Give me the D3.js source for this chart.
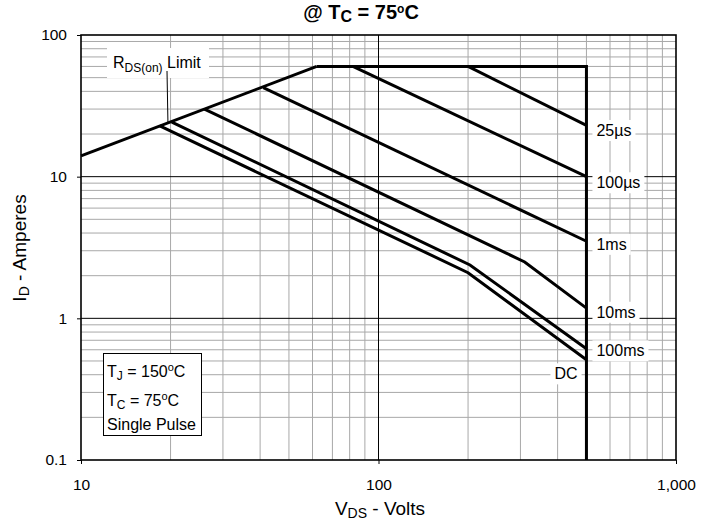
<!DOCTYPE html>
<html>
<head>
<meta charset="utf-8">
<script src="https://cdn.jsdelivr.net/npm/d3@7"></script>
<style>
  html, body { margin: 0; padding: 0; background: #fff; }
  svg { display: block; font-family: "Liberation Sans", Arial, Helvetica, sans-serif; }
</style>
</head>
<body>
<svg id="chart" width="715" height="524"></svg>
<script>
// ---------- data ----------
const xTicks = [10, 100, 1000];
const xTickLabels = ["10", "100", "1,000"];
const yTicks = [0.1, 1, 10, 100];
const yTickLabels = ["0.1", "1", "10", "100"];

const rdsLimit = [[10, 14], [62, 60]];
const envelope = [[62, 60], [500, 60], [500, 0.1]];
const line25us = [[200, 60], [500, 23]];
const line100us = [[82, 60], [500, 10]];
const line1ms = [[41, 42.5], [500, 3.5]];
const line10ms = [[26, 30], [310, 2.5], [500, 1.18]];
const line100ms = [[20.2, 24.3], [203, 2.38], [500, 0.61]];
const lineDC = [[18.4, 22.8], [200, 2.1], [500, 0.51]];

const curveNames = ["25µs", "100µs", "1ms", "10ms", "100ms", "DC"];
const curves = [line25us, line100us, line1ms, line10ms, line100ms, lineDC];

// ---------- layout ----------
const svg = d3.select("#chart");
const pL = 81, pR = 676, pT = 35, pB = 460;
const x = d3.scaleLog().domain([10, 1000]).range([pL, pR]);
const y = d3.scaleLog().domain([0.1, 100]).range([pB, pT]);
const fsTick = 15.5, fsLab = 16, fsSub = 12, fsAxis = 19;

// minor grid
const minorX = [], minorY = [];
[10, 100].forEach(d => { for (let k = 2; k <= 9; k++) minorX.push(d * k); });
[0.1, 1, 10].forEach(d => { for (let k = 2; k <= 9; k++) minorY.push(d * k); });

const grid = svg.append("g");
grid.selectAll(".mx").data(minorX).join("line")
  .attr("x1", d => x(d)).attr("x2", d => x(d))
  .attr("y1", pT).attr("y2", pB)
  .attr("stroke", "#a8a8a8").attr("stroke-width", 1);
grid.selectAll(".my").data(minorY).join("line")
  .attr("y1", d => y(d)).attr("y2", d => y(d))
  .attr("x1", pL).attr("x2", pR)
  .attr("stroke", "#a8a8a8").attr("stroke-width", 1);
// major grid
grid.selectAll(".Mx").data(xTicks.slice(1, -1)).join("line")
  .attr("x1", d => x(d)).attr("x2", d => x(d))
  .attr("y1", pT).attr("y2", pB)
  .attr("stroke", "#000").attr("stroke-width", 1);
grid.selectAll(".My").data(yTicks.slice(1, -1)).join("line")
  .attr("y1", d => y(d)).attr("y2", d => y(d))
  .attr("x1", pL).attr("x2", pR)
  .attr("stroke", "#000").attr("stroke-width", 1);

// axes
const xAxis = d3.axisBottom(x).tickValues(xTicks).tickSize(4)
  .tickFormat((d, i) => xTickLabels[i]);
const gx = svg.append("g").attr("transform", `translate(0,${pB})`).call(xAxis);
gx.select(".domain").remove();
gx.selectAll("text").attr("font-size", fsTick).attr("font-family", "Liberation Sans, Arial, sans-serif")
  .attr("fill", "#000").attr("dy", null).attr("y", 30);

const yAxis = d3.axisLeft(y).tickValues(yTicks).tickSize(4)
  .tickFormat((d, i) => yTickLabels[i]);
const gy = svg.append("g").attr("transform", `translate(${pL},0)`).call(yAxis);
gy.select(".domain").remove();
gy.selectAll("text").attr("font-size", fsTick).attr("font-family", "Liberation Sans, Arial, sans-serif")
  .attr("fill", "#000").attr("x", -14);

// frame
svg.append("rect").attr("x", pL).attr("y", pT)
  .attr("width", pR - pL).attr("height", pB - pT)
  .attr("fill", "none").attr("stroke", "#000").attr("stroke-width", 1.6);

function bgText(g, tx, pad) {
  const bb = tx.node().getBBox();
  g.insert("rect", "text").attr("x", bb.x - pad).attr("y", bb.y - 2)
    .attr("width", bb.width + 2 * pad).attr("height", bb.height + 4).attr("fill", "#fff");
}

// RDS(on) label
const rg = svg.append("g");
const rt = rg.append("text").attr("x", 113).attr("y", 68).attr("font-size", fsLab);
rt.append("tspan").text("R");
rt.append("tspan").attr("font-size", fsSub).attr("dy", 4).text("DS(on)");
rt.append("tspan").attr("dy", -4).text(" Limit");
rg.insert("rect", "text").attr("x", 107).attr("y", 48).attr("width", 102).attr("height", 30).attr("fill", "#fff");
rg.append("line").attr("x1", 167).attr("y1", 71).attr("x2", x(19.6)).attr("y2", y(24))
  .attr("stroke", "#000").attr("stroke-width", 1);

// curves
const lineGen = d3.line().x(d => x(d[0])).y(d => y(d[1]));
const lg = svg.append("g").attr("fill", "none").attr("stroke", "#000")
  .attr("stroke-width", 3).attr("stroke-linejoin", "miter");
lg.append("path").attr("d", lineGen(rdsLimit));
lg.append("path").attr("d", lineGen(envelope));
curves.forEach(c => lg.append("path").attr("d", lineGen(c)));

// curve labels
const labOffsets = [[10, 5], [10, 6], [10, 3], [10, 4], [10, 2], [-32, 14]];
curves.forEach((c, i) => {
  const end = c[c.length - 1];
  const g = svg.append("g");
  const t = g.append("text")
    .attr("x", x(end[0]) + labOffsets[i][0])
    .attr("y", y(end[1]) + labOffsets[i][1])
    .attr("dy", "0.35em")
    .attr("font-size", fsLab).text(curveNames[i]);
  bgText(g, t, 4);
});
lg.raise();

// info box
const ib = svg.append("g");
ib.append("rect").attr("x", 103.5).attr("y", 353.5).attr("width", 98).attr("height", 82)
  .attr("fill", "#fff").attr("stroke", "#000").attr("stroke-width", 1);
function tempLine(yy, sub, val) {
  const t = ib.append("text").attr("x", 107).attr("y", yy).attr("font-size", fsLab);
  t.append("tspan").text("T");
  t.append("tspan").attr("font-size", fsSub).attr("dy", 3).text(sub);
  t.append("tspan").attr("dy", -3).text(" = " + val);
  t.append("tspan").attr("font-size", 11).attr("dy", -6).text("o");
  t.append("tspan").attr("dy", 6).text("C");
}
tempLine(377, "J", "150");
tempLine(406, "C", "75");
ib.append("text").attr("x", 107).attr("y", 430).attr("font-size", fsLab).text("Single Pulse");

// title
const tt = svg.append("text").attr("x", 361).attr("y", 19).attr("text-anchor", "middle")
  .attr("font-size", 20).attr("font-weight", "bold");
tt.append("tspan").text("@ T");
tt.append("tspan").attr("font-size", 16).attr("dy", 3).text("C");
tt.append("tspan").attr("dy", -3).text(" = 75");
tt.append("tspan").attr("font-size", 12).attr("dy", -6).text("o");
tt.append("tspan").attr("dy", 6).text("C");

// axis titles
const xt = svg.append("text").attr("x", 380).attr("y", 515).attr("text-anchor", "middle").attr("font-size", fsAxis);
xt.append("tspan").text("V");
xt.append("tspan").attr("font-size", 14).attr("dy", 3).text("DS");
xt.append("tspan").attr("dy", -3).text(" - Volts");
const yt = svg.append("text").attr("transform", "translate(26,248) rotate(-90)")
  .attr("text-anchor", "middle").attr("font-size", fsAxis);
yt.append("tspan").text("I");
yt.append("tspan").attr("font-size", 14).attr("dy", 3).text("D");
yt.append("tspan").attr("dy", -3).text(" - Amperes");
</script>
</body>
</html>
